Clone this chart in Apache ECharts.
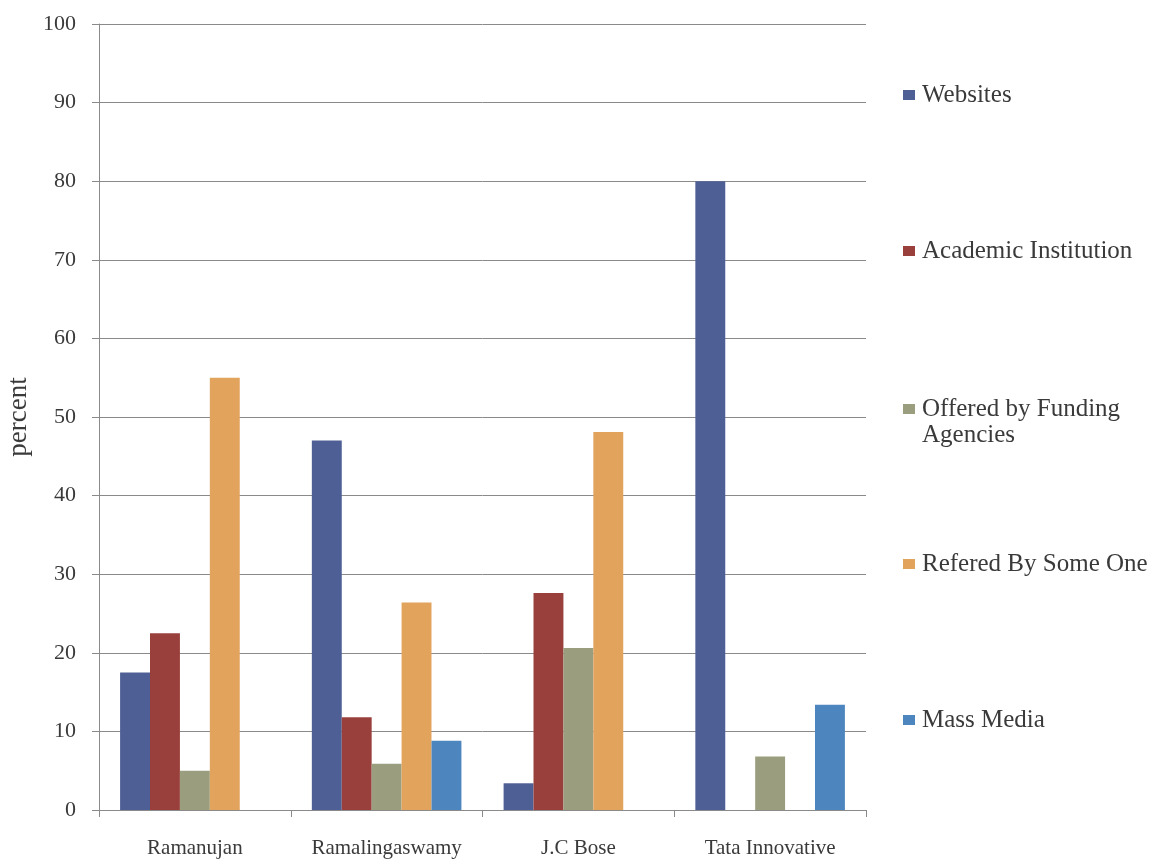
<!DOCTYPE html>
<html><head><meta charset="utf-8">
<script src="https://cdn.jsdelivr.net/npm/echarts@6/dist/echarts.min.js"></script>
<style>html,body{margin:0;padding:0;background:#fff}#c{width:1167px;height:859px}</style>
</head><body><div id="c"></div>
<script>
const categories = ['Ramanujan', 'Ramalingaswamy', 'J.C Bose', 'Tata Innovative'];
const websites = [17.5, 47.0, 3.4, 80.0];
const academic = [22.5, 11.8, 27.6, null];
const offered = [5.0, 5.9, 20.6, 6.8];
const refered = [55.0, 26.4, 48.1, null];
const massMedia = [null, 8.8, null, 13.4];
const seriesNames = ['Websites', 'Academic Institution', 'Offered by Funding Agencies', 'Refered By Some One', 'Mass Media'];
const legendLines = [['Websites'], ['Academic Institution'], ['Offered by Funding', 'Agencies'], ['Refered By Some One'], ['Mass Media']];
const yTicks = [0, 10, 20, 30, 40, 50, 60, 70, 80, 90, 100];

const colors = ['#4e5f96', '#9a403c', '#9a9e7e', '#e2a35d', '#4d85bf'];
const values = [websites, academic, offered, refered, massMedia];
const font = '"Liberation Serif", "DejaVu Serif", serif';
const legendTops = [81, 237, 395, 550, 706];
const LH = 28;

const chart = echarts.init(document.getElementById('c'));
chart.setOption({
  animation: false,
  backgroundColor: '#ffffff',
  color: colors,
  grid: { left: 99, right: 301, top: 24, bottom: 49, containLabel: false, outerBoundsMode: 'none' },
  legend: seriesNames.map((n, i) => ({
    data: [n], orient: 'vertical', left: 903, top: legendTops[i], padding: 0,
    icon: 'rect', itemWidth: 12, itemHeight: 10, itemGap: 0,
    formatter: () => legendLines[i][0],
    textStyle: { fontFamily: font, fontSize: 25, color: '#3a3a3a', lineHeight: LH, padding: [0, 0, 0, 2] },
    selectedMode: false
  })),
  graphic: legendLines.filter(l => l.length > 1).map((l, k) => ({
    type: 'text', left: 922, top: legendTops[2] + LH,
    style: { text: l[1], font: '25px ' + font, fill: '#3a3a3a' }
  })),
  xAxis: {
    type: 'category', data: categories,
    axisLine: { lineStyle: { color: '#8a8a8a', width: 1 } },
    axisTick: { show: true, interval: 0, length: 7, lineStyle: { color: '#8a8a8a' } },
    axisLabel: { interval: 0, fontFamily: font, fontSize: 21, color: '#3a3a3a', margin: 28 }
  },
  yAxis: {
    type: 'value', min: yTicks[0], max: yTicks[yTicks.length - 1], interval: 10,
    name: 'percent', nameLocation: 'middle', nameGap: 63,
    nameTextStyle: { fontFamily: font, fontSize: 27, color: '#3a3a3a' },
    axisLine: { show: true, lineStyle: { color: '#8a8a8a', width: 1 } },
    axisTick: { show: true, length: 7, lineStyle: { color: '#8a8a8a' } },
    axisLabel: { fontFamily: font, fontSize: 22, color: '#3a3a3a', margin: 23 },
    splitLine: { lineStyle: { color: '#8a8a8a', width: 1 } }
  },
  series: seriesNames.map((n, i) => ({
    name: n, type: 'bar', data: values[i],
    barGap: '0%', barCategoryGap: '22%',
    itemStyle: { color: colors[i] }
  }))
});
</script></body></html>
